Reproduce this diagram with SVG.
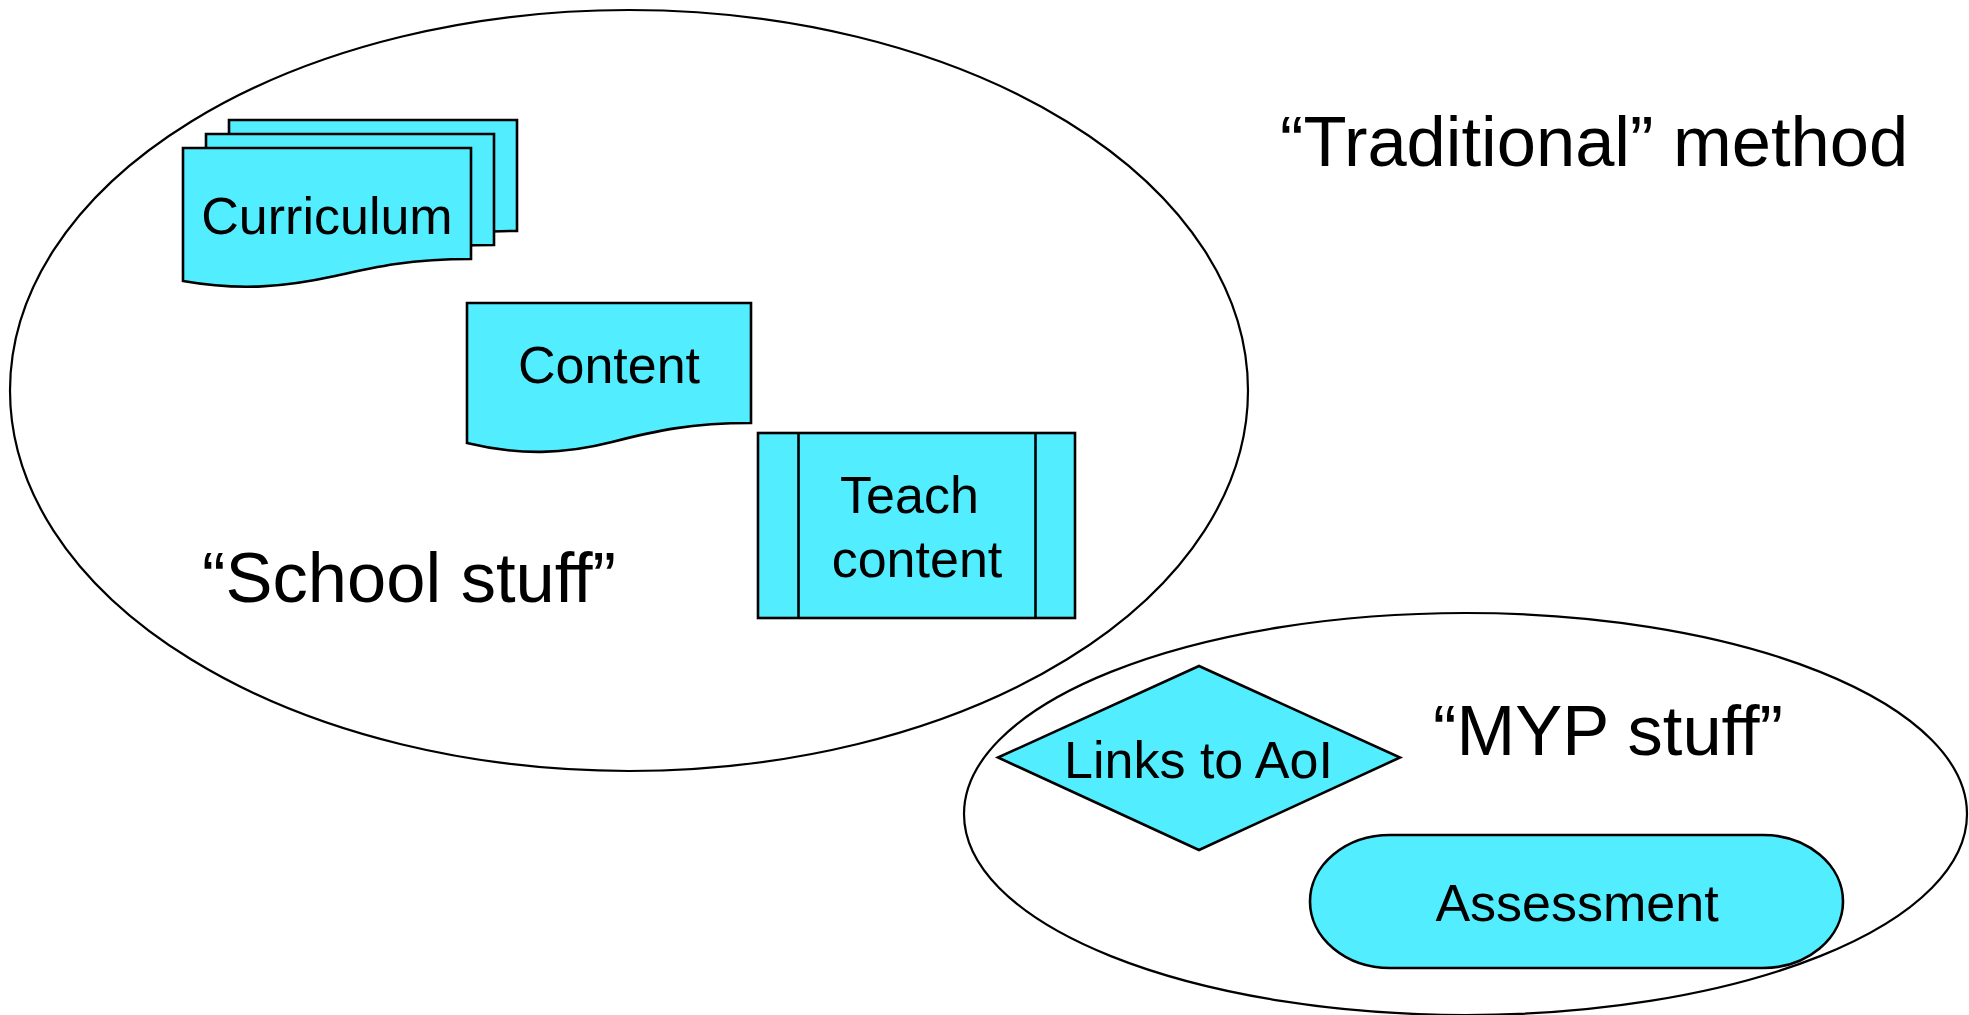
<svg xmlns="http://www.w3.org/2000/svg" width="1969" height="1015" viewBox="0 0 1969 1015">
  <defs>
    <style>
      .region { fill: none; stroke: #000; stroke-width: 2.2; }
      .shape { fill: #52EEFF; stroke: #000; stroke-width: 2.6; stroke-linejoin: miter; }
      .divider { fill: none; stroke: #000; stroke-width: 2.6; }
      .label { font-family: "Liberation Sans", Arial, sans-serif; font-size: 52px; fill: #000; text-anchor: middle; }
      .title { font-family: "Liberation Sans", Arial, sans-serif; font-size: 70.5px; fill: #000; }
    </style>
    <!-- document outline with a wavy bottom edge -->
    <path id="docPage" d="M183,148 H471 V259 C410,259 375,267 335,276 C285,287 240,291 183,281 Z"/>
  </defs>
  <rect width="1969" height="1015" fill="#fff"/>

  <!-- grouping regions -->
  <g id="school-region">
    <ellipse class="region" cx="629" cy="390.5" rx="619" ry="380.5"/>
    <text class="title" x="202" y="602">“School stuff”</text>
  </g>
  <g id="myp-region">
    <ellipse class="region" cx="1465.5" cy="814" rx="501.5" ry="201"/>
    <text class="title" x="1433" y="755">“MYP stuff”</text>
  </g>
  <g id="heading">
    <text class="title" x="1280" y="166">“Traditional” method</text>
  </g>

  <!-- stacked documents -->
  <g id="curriculum">
    <use href="#docPage" class="shape" transform="translate(46,-28)"/>
    <use href="#docPage" class="shape" transform="translate(23,-14)"/>
    <use href="#docPage" class="shape"/>
    <text class="label" x="327" y="234">Curriculum</text>
  </g>

  <!-- single document -->
  <g id="content">
    <path class="shape" d="M467,303 H751 V423 C690,423 655,431 612,442 C565,454 520,456 467,443 Z"/>
    <text class="label" x="609" y="383">Content</text>
  </g>

  <!-- predefined process -->
  <g id="teach-content">
    <rect class="shape" x="758" y="433" width="317" height="185"/>
    <line class="divider" x1="798.5" y1="433" x2="798.5" y2="618"/>
    <line class="divider" x1="1035.5" y1="433" x2="1035.5" y2="618"/>
    <text class="label" x="909.5" y="513">Teach</text>
    <text class="label" x="917" y="577">content</text>
  </g>

  <!-- decision -->
  <g id="links-to-aoi">
    <polygon class="shape" points="998,757.5 1199,666 1400,757.5 1199,850"/>
    <text class="label" x="1198.5" y="778">Links to AoI</text>
  </g>

  <!-- terminator -->
  <g id="assessment">
    <rect class="shape" x="1310" y="835" width="533" height="133" rx="80" ry="66.5"/>
    <text class="label" x="1577" y="921">Assessment</text>
  </g>

  <g id="connectors"></g>
</svg>
